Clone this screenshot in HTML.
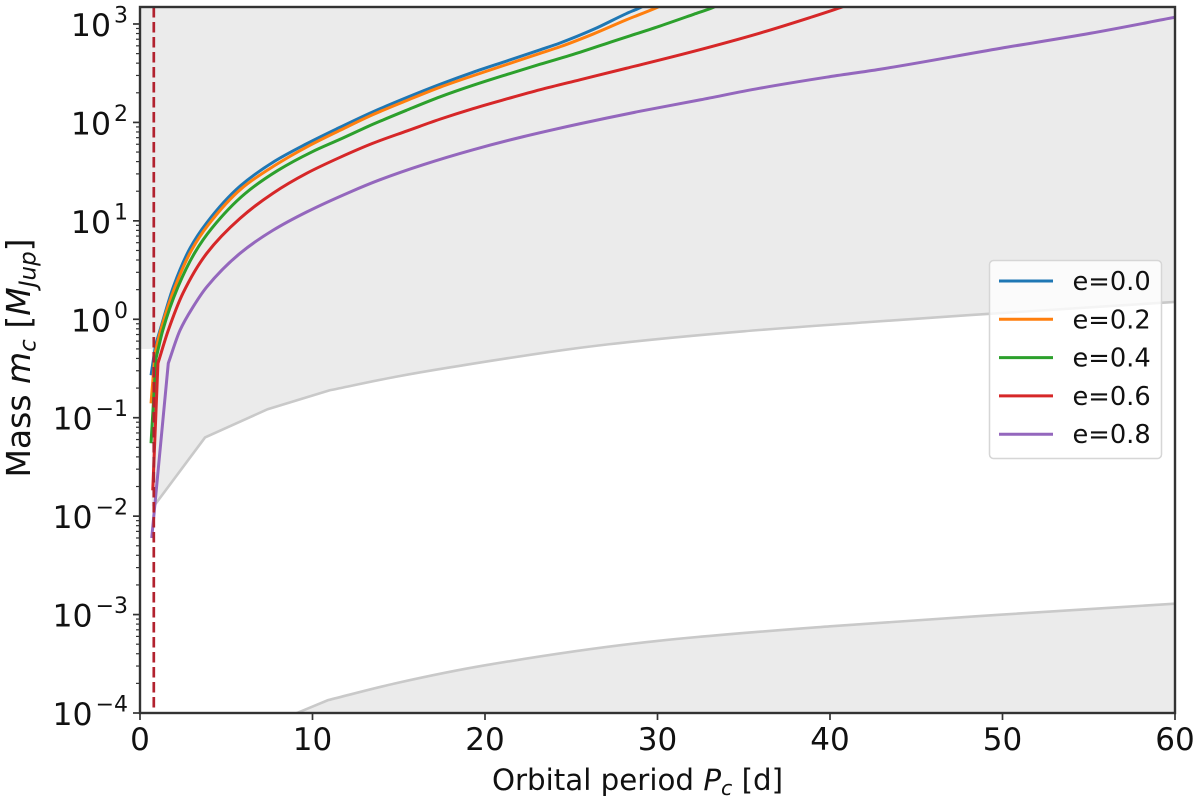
<!DOCTYPE html>
<html lang="en">
<head>
<meta charset="utf-8">
<title>Mass versus orbital period</title>
<style>
html,body{margin:0;padding:0;background:#fff;}
svg{display:block;font-family:"DejaVu Sans","Liberation Sans",sans-serif;fill:#111;}
</style>
</head>
<body>
<svg id="chart" width="1200" height="804" viewBox="0 0 1200 804" xmlns="http://www.w3.org/2000/svg">
  <defs>
    <clipPath id="plot-clip"><rect x="140" y="7" width="1035" height="706"></rect></clipPath>
  </defs>
  <g id="fills" clip-path="url(#plot-clip)"></g>
  <g id="series" clip-path="url(#plot-clip)"></g>
  <g id="axes"></g>
  <g id="legend"></g>
  <text x="637.5" y="790" font-size="29.3" text-anchor="middle">Orbital period <tspan font-style="italic">P</tspan><tspan font-style="italic" font-size="20.5" dy="5">c</tspan><tspan dy="-5"> [d]</tspan></text>
  <text transform="translate(30,358) rotate(-90)" font-size="33" text-anchor="middle">Mass <tspan font-style="italic">m</tspan><tspan font-style="italic" font-size="23" dy="5.5">c</tspan><tspan dy="-5.5"> [</tspan><tspan font-style="italic">M</tspan><tspan font-style="italic" font-size="23" dy="5.5">Jup</tspan><tspan dy="-5.5">]</tspan></text>
</svg>
<script>
const xTicks = [0, 10, 20, 30, 40, 50, 60];
const yTickExponents = [3, 2, 1, 0, -1, -2, -3, -4];
const seriesLabels = ['e=0.0', 'e=0.2', 'e=0.4', 'e=0.6', 'e=0.8'];
const seriesColors = ['#1f77b4', '#ff7f0e', '#2ca02c', '#d62728', '#9467bd'];

const periodE00 = [0.64, 0.9, 1.16, 1.93, 2.9, 3.87, 5.8, 7.71, 9.66, 11.6, 13.5, 15.5, 17.4, 19.3, 21.3, 23.2, 24.35, 26.3, 28.2, 29.0, 29.6];
const massE00 = [0.27, 0.545, 0.773, 2.13, 5.27, 9.56, 22.5, 39.4, 60.7, 89.3, 128, 180, 244, 323, 423, 547, 641, 883, 1276, 1468, 1660];

const periodE02 = [0.64, 0.87, 1.2, 2.03, 3.0, 3.94, 5.9, 7.83, 9.74, 11.6, 13.5, 15.5, 17.4, 19.3, 21.3, 23.2, 24.35, 26.3, 28.2, 30.0, 30.6];
const massE02 = [0.14, 0.452, 0.773, 2.13, 5.08, 9.02, 21.4, 36.7, 57.2, 83.2, 120, 168, 228, 298, 390, 504, 587, 795, 1104, 1479, 1660];

const periodE04 = [0.64, 0.93, 1.32, 2.2, 3.19, 4.16, 6.09, 8.0, 9.95, 11.6, 13.5, 15.5, 17.4, 19.3, 21.3, 23.2, 25.5, 27.25, 30.1, 32.1, 33.2, 33.75];
const massE04 = [0.055, 0.4, 0.773, 2.13, 4.79, 8.4, 18.9, 32.6, 50, 67.4, 95.7, 134, 182, 238, 308, 390, 516, 652, 948, 1255, 1468, 1625];

const periodE06 = [0.74, 1.04, 1.64, 2.49, 3.87, 5.8, 7.71, 9.66, 11.6, 13.5, 15.5, 17.4, 19.3, 21.3, 23.2, 25.5, 28.2, 32.1, 35.9, 38.8, 40.6, 41.2];
const massE06 = [0.0183, 0.357, 0.773, 1.84, 4.68, 10.6, 19.1, 30.4, 44.2, 61.4, 82.2, 108, 138, 174, 215, 271, 355, 528, 805, 1156, 1468, 1604];

const periodE08 = [0.68, 1.64, 2.32, 3.07, 3.87, 5.8, 7.71, 9.66, 12.17, 13.9, 16.4, 19.3, 22.2, 25.5, 29, 32.5, 35.9, 39.8, 42.9, 49.9, 55.1, 60];
const massE08 = [0.006, 0.357, 0.773, 1.33, 2.13, 4.68, 8.02, 12.3, 19.6, 26.1, 37.1, 52.7, 71.5, 96.9, 130, 170, 222, 288, 347, 567, 805, 1170];

const upperLimitPeriod = [0.8, 3.77, 7.4, 11, 14.8, 18, 26.7, 35, 42, 48, 60];
const upperLimitMass = [0.0126, 0.063, 0.122, 0.19, 0.26, 0.325, 0.545, 0.755, 0.93, 1.1, 1.5];

const lowerLimitPeriod = [7.5, 9.1, 10.9, 14.8, 20, 30, 40, 50, 60];
const lowerLimitMass = [0.00007, 0.0001, 0.000135, 0.0002, 0.000305, 0.00054, 0.00076, 0.001, 0.00129];

const stabilityPeriod = 0.8;

const periodSeries = [periodE00, periodE02, periodE04, periodE06, periodE08];
const massSeries = [massE00, massE02, massE04, massE06, massE08];

const NS = 'http://www.w3.org/2000/svg';
const plotLeft = 140, plotRight = 1175, plotTop = 7, plotBottom = 713;
const xMax = 60, logMin = -4, decadePx = 98.43;
function xScale(p) { return plotLeft + p * (plotRight - plotLeft) / xMax; }
function yScale(m) { return plotBottom - (Math.log10(m) - logMin) * decadePx; }
function makeEl(tag, attrs, parent) {
  const el = document.createElementNS(NS, tag);
  for (const k in attrs) el.setAttribute(k, attrs[k]);
  parent.appendChild(el);
  return el;
}
// straight segments up to index linearTo (true kinks in the data), monotone cubic afterwards
function pathFrom(ps, ms, linearTo) {
  const X = ps.map(xScale), Y = ms.map(yScale);
  let d = 'M' + X[0].toFixed(2) + ' ' + Y[0].toFixed(2);
  for (let i = 1; i <= linearTo; i++) d += ' L' + X[i].toFixed(2) + ' ' + Y[i].toFixed(2);
  const n = X.length, slopes = [], tangents = [];
  for (let i = linearTo; i < n - 1; i++) slopes[i] = (Y[i + 1] - Y[i]) / (X[i + 1] - X[i]);
  tangents[linearTo] = slopes[linearTo];
  tangents[n - 1] = slopes[n - 2];
  for (let i = linearTo + 1; i < n - 1; i++) {
    const h0 = X[i] - X[i - 1], h1 = X[i + 1] - X[i];
    const w0 = 2 * h1 + h0, w1 = h1 + 2 * h0;
    const s0 = slopes[i - 1], s1 = slopes[i];
    tangents[i] = s0 * s1 <= 0 ? 0 : (w0 + w1) / (w0 / s0 + w1 / s1);
  }
  for (let i = linearTo; i < n - 1; i++) {
    const h = (X[i + 1] - X[i]) / 3;
    d += ' C' + (X[i] + h).toFixed(2) + ' ' + (Y[i] + tangents[i] * h).toFixed(2) + ' ' +
         (X[i + 1] - h).toFixed(2) + ' ' + (Y[i + 1] - tangents[i + 1] * h).toFixed(2) + ' ' +
         X[i + 1].toFixed(2) + ' ' + Y[i + 1].toFixed(2);
  }
  return d;
}

const fills = document.getElementById('fills');
const seriesG = document.getElementById('series');
const axes = document.getElementById('axes');
const legend = document.getElementById('legend');
const fillColor = '#ebebeb', limitColor = '#c9c9c9';

const upperPath = pathFrom(upperLimitPeriod, upperLimitMass, 3);
const lowerPath = pathFrom(lowerLimitPeriod, lowerLimitMass, 2);

// excluded region above the upper limit
const upperStartX = xScale(upperLimitPeriod[0]) - 2;
const upperFill = makeEl('path', {
  d: 'M' + upperStartX + ' ' + plotTop + ' L' + upperStartX + ' ' + yScale(upperLimitMass[0]) + ' ' +
     upperPath.replace('M', 'L') + ' L' + plotRight + ' ' + plotTop + ' Z',
  fill: fillColor
}, fills);



const upperLeftFill = makeEl('rect', {
  x: plotLeft, y: plotTop, width: upperStartX - plotLeft, height: yScale(0.5) - plotTop, fill: fillColor
}, fills);



// excluded region below the lower limit
const lastLower = lowerLimitPeriod.length - 1;
const lowerFill = makeEl('path', {
  d: lowerPath + ' L' + xScale(lowerLimitPeriod[lastLower]) + ' ' + (plotBottom + 5) +
     ' L' + xScale(lowerLimitPeriod[0]) + ' ' + (plotBottom + 5) + ' Z',
  fill: fillColor
}, fills);



const upperLine = makeEl('path', { d: upperPath, fill: 'none', stroke: limitColor, 'stroke-width': 2.6 }, fills);



const lowerLine = makeEl('path', { d: lowerPath, fill: 'none', stroke: limitColor, 'stroke-width': 2.6 }, fills);



// series
periodSeries.forEach((ps, i) => {
  const line = makeEl('path', { d: pathFrom(ps, massSeries[i], 1), fill: 'none', stroke: seriesColors[i], 'stroke-width': 3, 'stroke-linejoin': 'round' }, seriesG);
  
  
});

// vertical dashed reference line
const refLine = makeEl('line', {
  x1: xScale(stabilityPeriod), x2: xScale(stabilityPeriod), y1: plotTop, y2: plotBottom,
  stroke: '#b2222f', 'stroke-width': 2.7, 'stroke-dasharray': '10.5 4.5'
}, seriesG);



// minor y ticks
const minorMultipliers = [2, 3, 4, 5, 6, 7, 8, 9];
yTickExponents.forEach(exp => {
  minorMultipliers.forEach(mult => {
    const m = mult * Math.pow(10, exp);
    if (yScale(m) < plotTop) return;
    const minor = makeEl('line', { x1: plotLeft - 4, x2: plotLeft, y1: yScale(m), y2: yScale(m), stroke: '#333', 'stroke-width': 1.2 }, axes);
    
    
  });
});

// major y ticks and labels
yTickExponents.forEach(exp => {
  const yPos = yScale(Math.pow(10, exp));
  const tick = makeEl('line', { x1: plotLeft - 7, x2: plotLeft, y1: yPos, y2: yPos, stroke: '#333', 'stroke-width': 1.7 }, axes);
  
  
  const label = makeEl('text', { x: 128, y: yPos + 12, 'font-size': 31.5, 'text-anchor': 'end' }, axes);
  
  
  label.appendChild(document.createTextNode('10'));
  const sup = makeEl('tspan', { dy: -13.5, dx: 3, 'font-size': 22 }, label);
  sup.textContent = String(exp).replace('-', '\u2212');
});

// x ticks and labels
xTicks.forEach(v => {
  const xPos = xScale(v);
  const tick = makeEl('line', { x1: xPos, x2: xPos, y1: plotBottom, y2: plotBottom + 7, stroke: '#333', 'stroke-width': 1.7 }, axes);
  
  
  const label = makeEl('text', { x: xPos, y: 750, 'font-size': 31, 'text-anchor': 'middle' }, axes);
  
  
  label.textContent = String(v);
});

// frame
const frame = makeEl('rect', { x: plotLeft, y: plotTop, width: plotRight - plotLeft, height: plotBottom - plotTop, fill: 'none', stroke: '#333', 'stroke-width': 2.4 }, axes);



// legend
const legendBox = makeEl('rect', { x: 989.5, y: 260.5, width: 172, height: 198, rx: 4, ry: 4, fill: '#fff', 'fill-opacity': 0.8, stroke: '#d6d6d6', 'stroke-width': 1.5 }, legend);


seriesLabels.forEach((lab, i) => {
  const rowY = 281 + i * 38.3;
  const handle = makeEl('line', { x1: 999, x2: 1053, y1: rowY, y2: rowY, stroke: seriesColors[i], 'stroke-width': 3 }, legend);
  
  
  const txt = makeEl('text', { x: 1072.5, y: rowY + 9, 'font-size': 25.7 }, legend);
  
  
  txt.textContent = lab;
});
</script>
</body>
</html>
